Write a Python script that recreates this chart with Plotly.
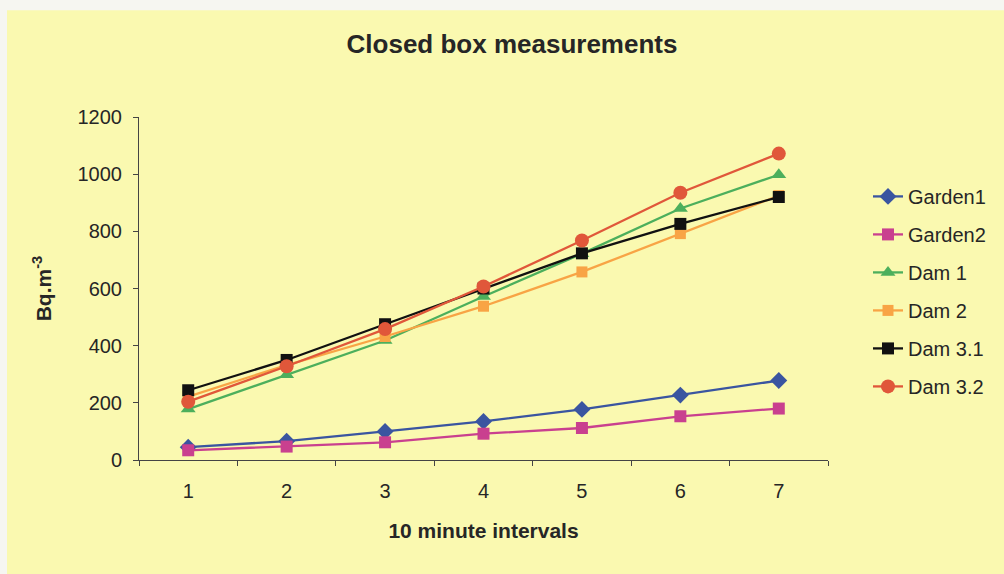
import plotly.graph_objects as go

intervals = [1, 2, 3, 4, 5, 6, 7]
garden1 = [45, 66, 100, 135, 177, 227, 278]
garden2 = [34, 47, 62, 92, 112, 153, 180]
dam1 = [178, 298, 418, 572, 722, 880, 998]
dam2 = [222, 332, 432, 538, 658, 792, 925]
dam3_1 = [244, 350, 475, 600, 723, 826, 920]
dam3_2 = [204, 328, 458, 607, 768, 935, 1072]

series = [
    ("Garden1", garden1, "#3A55A0", "diamond", 13),
    ("Garden2", garden2, "#C9408F", "square", 12),
    ("Dam 1", dam1, "#4CAF5C", "triangle-up", 13),
    ("Dam 2", dam2, "#F8A445", "square", 11),
    ("Dam 3.1", dam3_1, "#111111", "square", 12),
    ("Dam 3.2", dam3_2, "#E0573A", "circle", 14),
]

BG = "#FAF9B0"
TXT = "#262626"
FONT = "Liberation Sans, Arial, sans-serif"

fig = go.Figure()
for i, (name, vals, col, sym, sz) in enumerate(series):
    fig.add_trace(go.Scatter(
        x=intervals, y=vals, name=name, mode="lines+markers",
        line=dict(color=col, width=2.3),
        marker=dict(color=col, symbol=sym, size=sz, line=dict(width=0)),
        legendgroup=f"g{i}",
    ))

L, R, T, B = 139, 176, 117, 113.5
W, H = 1004, 574
pw = W - L - R
ph = H - T - B

def px2x(px):
    return (px - L) / pw

def py2y(py):
    return (H - B - py) / ph

fig.add_shape(type="rect", xref="paper", yref="paper",
              x0=px2x(7), x1=px2x(W + 5), y0=py2y(H + 5), y1=py2y(10),
              fillcolor=BG, line=dict(width=0), layer="below")

fig.update_layout(
    width=W, height=H,
    margin=dict(l=L, r=R, t=T, b=B),
    paper_bgcolor="#f6f6f1",
    plot_bgcolor=BG,
    font=dict(family=FONT, color=TXT, size=20),
    title=dict(text="<b>Closed box measurements</b>", x=512 / W,
               xanchor="center", y=1 - 44 / H, yanchor="middle",
               font=dict(size=26, color=TXT, family=FONT)),
    showlegend=True,
    legend=dict(x=px2x(868), xanchor="left", y=py2y(177), yanchor="top",
                bgcolor="rgba(0,0,0,0)", font=dict(size=20, color=TXT),
                tracegroupgap=9, itemwidth=30),
    xaxis=dict(range=[0.5, 7.5], tickmode="array", tickvals=intervals,
               ticktext=[str(v) for v in intervals], ticks="", showgrid=False,
               zeroline=False, showline=True, linecolor="#444", linewidth=1,
               ticklabelstandoff=13,
               minor=dict(ticks="outside", tick0=0.5, dtick=1, ticklen=5,
                          tickcolor="#444", showgrid=False),
               title=dict(text="<b>10 minute intervals</b>", standoff=22,
                          font=dict(size=21, color=TXT))),
    yaxis=dict(range=[0, 1200], tickmode="linear", tick0=0, dtick=200,
               ticks="outside", ticklen=5, tickcolor="#444", showgrid=False,
               zeroline=False, showline=True, linecolor="#444", linewidth=1,
               ticklabelstandoff=7,
               title=dict(text="<b>Bq.m<sup>-3</sup></b>", standoff=20,
                          font=dict(size=21, color=TXT))),
)

fig.write_html("out.html")
